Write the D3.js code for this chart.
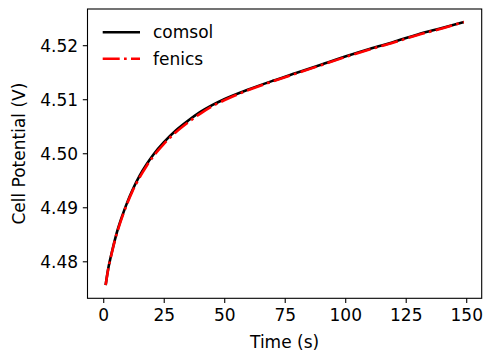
<!DOCTYPE html>
<html><head><meta charset="utf-8">
<script src="https://cdn.jsdelivr.net/npm/d3@7"></script>
<style>html,body{margin:0;padding:0;background:#fff;}svg{display:block;font-family:"DejaVu Sans",sans-serif;}</style>
</head><body>
<svg id="c" width="485" height="353"></svg>
<script>
const time = [1,2,3,4,5,6,8,10,12,15,18,21,25,30,35,40,45,50,60,70,80,90,100,110,120,130,140,149];
const comsol = [4.4756,4.4785,4.4806,4.4825,4.4843,4.4859,4.4886,4.4910,4.4931,4.4958,4.4980,4.4999,4.5020,4.5042,4.5060,4.5076,4.5089,4.5100,4.5118,4.5134,4.5149,4.5164,4.5179,4.5193,4.5206,4.5220,4.5232,4.5243];
const fenics = [4.4756,4.4784,4.4805,4.4824,4.4842,4.4857,4.4884,4.4908,4.4929,4.4955,4.4977,4.4996,4.5017,4.5039,4.5057,4.5073,4.5087,4.5098,4.5117,4.5133,4.5148,4.5163,4.5178,4.5192,4.5205,4.5219,4.5231,4.5243];
const xTicks = [0,25,50,75,100,125,150];
const yTicks = [4.48,4.49,4.50,4.51,4.52];
const seriesNames = ["comsol","fenics"];

const svg = d3.select("#c");
const L=87.5, R=481.7, T=9, B=298.3;
const x = d3.scaleLinear().domain([-6.5,156.4]).range([L,R]);
const y = d3.scaleLinear().domain([4.47315,4.5267]).range([B,T]);

const line = d3.line().x((d,i)=>x(time[i])).y(d=>y(d)).curve(d3.curveMonotoneX);
svg.append("path").datum(comsol).attr("d",line).attr("fill","none").attr("stroke","#000").attr("stroke-width",2.6);
svg.append("path").datum(fenics).attr("d",line).attr("fill","none").attr("stroke","#ff0000").attr("stroke-width",2.6).attr("stroke-dasharray","17,4.3,2.7,4.3");

const fs = 17;
const xa = svg.append("g").attr("transform",`translate(0,${B})`).call(d3.axisBottom(x).tickValues(xTicks).tickSize(4.7).tickPadding(4.7).tickFormat(d3.format("d")));
const ya = svg.append("g").attr("transform",`translate(${L},0)`).call(d3.axisLeft(y).tickValues(yTicks).tickSize(4.7).tickPadding(4.7).tickFormat(d3.format(".2f")));
[xa,ya].forEach(a=>{a.select(".domain").remove();a.selectAll("line").attr("stroke","#000").attr("stroke-width",1.1);a.selectAll("text").attr("fill","#000").style("font-size",fs+"px").style("font-family","DejaVu Sans");});
ya.selectAll("text").attr("dy","0.36em");
xa.selectAll("text").attr("dy","0.76em");

svg.append("rect").attr("x",L).attr("y",T).attr("width",R-L).attr("height",B-T).attr("fill","none").attr("stroke","#000").attr("stroke-width",1.1);

svg.append("text").attr("x",(L+R)/2).attr("y",348).attr("text-anchor","middle").style("font-size",fs+"px").text("Time (s)");
svg.append("text").attr("transform",`translate(25,${(T+B)/2}) rotate(-90)`).attr("text-anchor","middle").style("font-size",fs+"px").text("Cell Potential (V)");

const leg = [{n:seriesNames[0],c:"#000",d:null,y:32.3},{n:seriesNames[1],c:"#ff0000",d:"17,4.3,2.7,4.3",y:58.7}];
leg.forEach(o=>{
  const l = svg.append("line").attr("x1",102.7).attr("x2",140).attr("y1",o.y).attr("y2",o.y).attr("stroke",o.c).attr("stroke-width",2.6);
  if(o.d) l.attr("stroke-dasharray",o.d);
  svg.append("text").attr("x",153).attr("y",o.y+6).style("font-size",fs+"px").text(o.n);
});
</script>
</body></html>
